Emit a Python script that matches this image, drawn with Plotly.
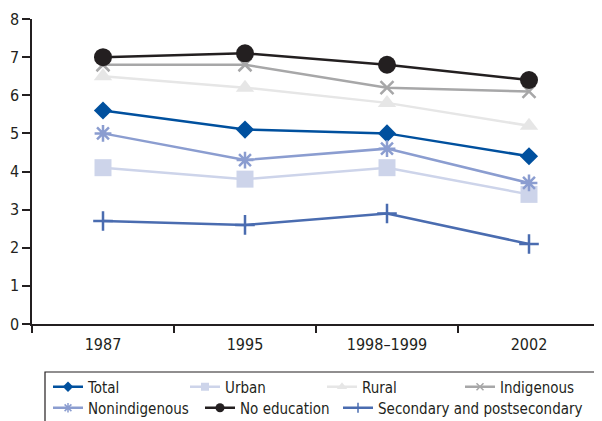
import plotly.graph_objects as go

years = ["1987", "1995", "1998–1999", "2002"]
total = [5.6, 5.1, 5.0, 4.4]
urban = [4.1, 3.8, 4.1, 3.4]
rural = [6.5, 6.2, 5.8, 5.2]
indigenous = [6.8, 6.8, 6.2, 6.1]
nonindigenous = [5.0, 4.3, 4.6, 3.7]
no_education = [7.0, 7.1, 6.8, 6.4]
secondary = [2.7, 2.6, 2.9, 2.1]

FONT = "DejaVu Sans Condensed, Liberation Sans Narrow, sans-serif"

# page body has an 8px margin: figure is drawn from (8, 8)
OFF = 8
W, H = 602 - OFF, 421 - OFF

series = [
    ("Total", total, "#00509e", "diamond", 14, 8, None, "legend"),
    ("Urban", urban, "#cdd4ea", "square", 17, 8, None, "legend2"),
    ("Rural", rural, "#e6e6e6", "triangle-up", 16, 9, None, "legend3"),
    ("Indigenous", indigenous, "#a7a7a8", "x-thin-open", 13, 7, 2.5, "legend4"),
    ("Nonindigenous", nonindigenous, "#8b9dd0", "asterisk-open", 14, 8, 2.5, "legend5"),
    ("No education", no_education, "#231f20", "circle", 18, 9, None, "legend6"),
    ("Secondary and postsecondary", secondary, "#4a6cb0", "cross-thin-open", 14, 7, 2.5, "legend7"),
]

fig = go.Figure()
for name, vals, color, sym, size, lsize, lw, leg in series:
    def mk(sz, w):
        m = dict(symbol=sym, size=sz, color=color)
        m["line"] = dict(color=color, width=w) if w else dict(width=0)
        return m
    fig.add_trace(go.Scatter(
        x=years, y=vals, name=name, mode="lines+markers",
        line=dict(color=color, width=2.5), marker=mk(size, lw),
        showlegend=False,
    ))
    # legend-only entry with the small key symbol used in the reference
    fig.add_trace(go.Scatter(
        x=[None], y=[None], name=name, mode="lines+markers",
        line=dict(color=color, width=2.5),
        marker=mk(lsize, 1.5 if lw else None),
        legend=leg, showlegend=True, hoverinfo="skip",
    ))

# legend positions (window px): text start x, row centre y
leg_pos = {
    "legend": (88, 387), "legend2": (225, 387), "legend3": (362, 387),
    "legend4": (500, 387), "legend5": (88, 408), "legend6": (240, 408),
    "legend7": (378, 408),
}
layout_legends = {}
for k, (tx, ty) in leg_pos.items():
    layout_legends[k] = dict(
        x=(tx - 40 - OFF) / W, y=1 - (ty - OFF) / H,
        xref="container", yref="container",
        xanchor="left", yanchor="middle", orientation="h",
        bgcolor="rgba(0,0,0,0)", borderwidth=0,
        font=dict(family=FONT, size=15, color="#231f20"),
        itemwidth=30, tracegroupgap=0,
    )

fig.update_layout(
    width=W, height=H,
    margin=dict(l=32 - OFF, r=2, t=19 - OFF, b=421 - 324, autoexpand=False),
    paper_bgcolor="white", plot_bgcolor="white",
    font=dict(family=FONT, size=16, color="#231f20"),
    showlegend=True,
    **layout_legends,
)
fig.update_xaxes(
    type="category", range=[-0.5, 3.5], tickson="boundaries",
    ticks="outside", ticklen=7, tickwidth=1.5, tickcolor="#231f20",
    showline=True, linecolor="#231f20", linewidth=1.5,
    showgrid=False, zeroline=False, automargin=False,
    ticklabelstandoff=5,
    tickfont=dict(family=FONT, size=16, color="#231f20"),
)
fig.update_yaxes(
    range=[0, 8], dtick=1, ticks="outside", ticklen=8, tickwidth=1.5,
    tickcolor="#231f20", showline=True, linecolor="#231f20", linewidth=1.5,
    showgrid=False, zeroline=False, automargin=False,
    tickfont=dict(family=FONT, size=16, color="#231f20"),
)
# legend frame
fig.add_shape(
    type="rect", xref="paper", yref="paper",
    x0=(45 - 32) / 568, x1=(601 - 32) / 568,
    y0=(324 - 372) / 305, y1=(324 - 430) / 305,
    line=dict(color="#231f20", width=1.2), fillcolor="rgba(0,0,0,0)",
    layer="below",
)

fig.write_html("out.html")
